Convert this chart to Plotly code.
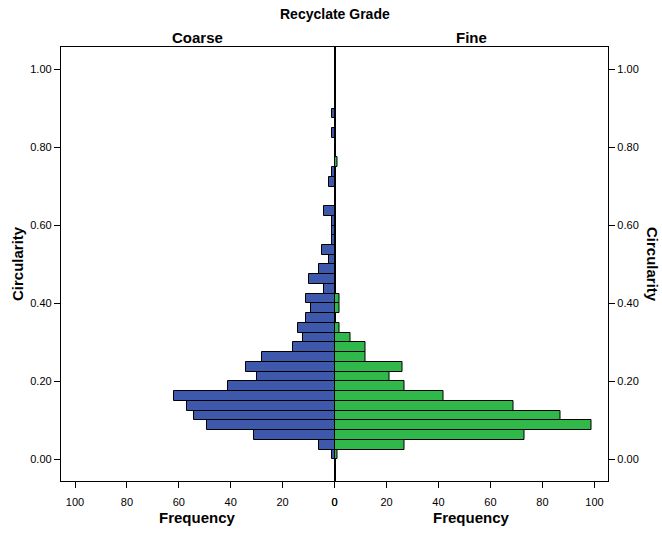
import plotly.graph_objects as go

# Histogram bins of Circularity (width 0.025, starting at 0)
bin_start = 0.0
bin_width = 0.025
coarse_counts = [1, 6, 31, 49, 54, 57, 62, 41, 30, 34, 28, 16, 12, 14, 11, 9, 11, 4,
                 10, 6, 2, 5, 1, 1, 1, 4, 0, 0, 2, 1, 0, 0, 0, 1, 0, 1]
fine_counts = [1, 27, 73, 99, 87, 69, 42, 27, 21, 26, 12, 12, 6, 2, 0, 2, 2, 0,
               0, 0, 0, 0, 0, 0, 0, 0, 0, 0, 0, 0, 1, 0, 0, 0, 0, 0]
freq_ticks = [0, 20, 40, 60, 80, 100]
circ_ticks = [0.0, 0.2, 0.4, 0.6, 0.8, 1.0]

centers = [bin_start + bin_width * (i + 0.5) for i in range(len(coarse_counts))]

def nz(vals):
    return [v if v else None for v in vals]

FONT = "Arial, Liberation Sans, sans-serif"
BLUE = "#3E58AC"
GREEN = "#30B84B"

fig = go.Figure()
fig.add_trace(go.Bar(x=nz(coarse_counts), y=centers, orientation="h", width=bin_width,
                     marker=dict(color=BLUE, line=dict(color="black", width=1)),
                     xaxis="x", yaxis="y", showlegend=False))
fig.add_trace(go.Bar(x=nz(fine_counts), y=centers, orientation="h", width=bin_width,
                     marker=dict(color=GREEN, line=dict(color="black", width=1)),
                     xaxis="x2", yaxis="y2", showlegend=False))

yr = [-0.0555, 1.058]
axis_common = dict(showgrid=False, zeroline=False, showline=True, linecolor="black",
                   linewidth=1.3, ticks="outside", ticklen=6, tickcolor="black",
                   tickfont=dict(family=FONT, size=11, color="black"))

def ann(text, x, y, xshift=0, yshift=0, size=15, angle=0):
    return dict(text=f"<b>{text}</b>", x=x, y=y, xref="paper", yref="paper",
                xshift=xshift, yshift=yshift, xanchor="center", yanchor="middle",
                textangle=angle, showarrow=False,
                font=dict(family=FONT, size=size, color="black"))

fig.update_layout(
    width=662, height=533,
    margin=dict(l=61, r=54, t=47, b=52),
    paper_bgcolor="white", plot_bgcolor="white",
    bargap=0,
    xaxis=dict(domain=[0, 0.5], range=[105.4, 0], tickvals=freq_ticks, mirror=True,
               anchor="y", ticklabelstandoff=5, **axis_common),
    xaxis2=dict(domain=[0.5, 1], range=[0, 105.2], tickvals=freq_ticks, mirror=True,
                anchor="y2", ticklabelstandoff=5, **axis_common),
    yaxis=dict(range=yr, tickvals=circ_ticks, tickformat=".2f", mirror=True,
               anchor="x", side="left", **axis_common),
    yaxis2=dict(range=yr, tickvals=circ_ticks, tickformat=".2f", mirror=True,
                anchor="x2", side="right", **axis_common),
    annotations=[
        ann("Recyclate Grade", 0.5, 1, yshift=33, size=14),
        ann("Coarse", 0.25, 1, yshift=10),
        ann("Fine", 0.75, 1, yshift=10),
        ann("Frequency", 0.25, 0, yshift=-36),
        ann("Frequency", 0.75, 0, yshift=-36),
        ann("Circularity", 0, 0.5, xshift=-44, angle=-90),
        ann("Circularity", 1, 0.5, xshift=45, angle=90),
    ],
)

fig.write_html("out.html")
